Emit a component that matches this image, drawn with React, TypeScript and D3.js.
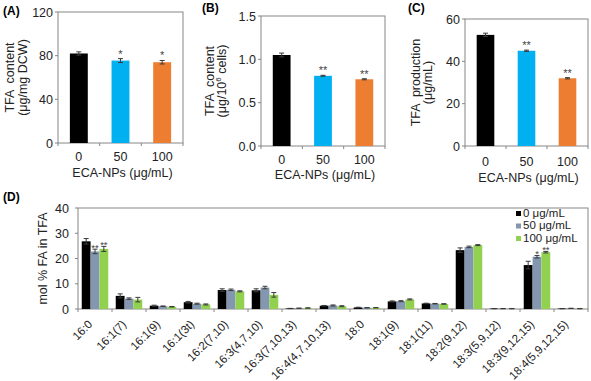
import React from "react";
import * as d3 from "d3";

const concLabels = ["0", "50", "100"];
const barColors = ["#000000", "#00b0f0", "#ed7d31"];

const tfaContent = [82, 75.5, 74];
const tfaContentErr = [1.5, 1.8, 1.6];
const tfaContentStars = ["", "*", "*"];
const tfaContentTicks = [0, 40, 80, 120];

const tfaPerCell = [1.05, 0.81, 0.77];
const tfaPerCellErr = [0.022, 0.006, 0.006];
const tfaPerCellStars = ["", "**", "**"];
const tfaPerCellTicks = [0, 0.5, 1.0, 1.5];

const tfaProd = [52.5, 45, 32];
const tfaProdErr = [0.8, 0.3, 0.3];
const tfaProdStars = ["", "**", "**"];
const tfaProdTicks = [0, 20, 40, 60];

const faNames = [
  "16:0", "16:1(7)", "16:1(9)", "16:1(3t)", "16:2(7,10)", "16:3(4,7,10)",
  "16:3(7,10,13)", "16:4(4,7,10,13)", "18:0", "18:1(9)", "18:1(11)",
  "18:2(9,12)", "18:3(5,9,12)", "18:3(9,12,15)", "18:4(5,9,12,15)",
];
const fa0 = [26.8, 5.2, 1.3, 2.7, 7.5, 7.4, 0.2, 1.3, 0.6, 3.0, 2.2, 23.3, 0.15, 17.4, 0.15];
const fa50 = [22.8, 4.1, 1.1, 2.1, 7.6, 8.5, 0.3, 1.4, 0.5, 3.1, 2.1, 24.6, 0.15, 20.7, 0.25];
const fa100 = [23.8, 3.7, 0.9, 1.8, 7.0, 5.6, 0.4, 1.1, 0.5, 3.8, 2.0, 25.3, 0.15, 22.5, 0.15];
const fa0Err = [1.1, 0.8, 0.2, 0.3, 0.5, 0.6, 0.05, 0.1, 0.1, 0.2, 0.1, 0.9, 0.05, 1.5, 0.05];
const fa50Err = [0.9, 0.3, 0.1, 0.2, 0.3, 0.5, 0.05, 0.2, 0.05, 0.2, 0.1, 0.3, 0.05, 0.5, 0.05];
const fa100Err = [1.0, 0.9, 0.1, 0.2, 0.2, 0.9, 0.05, 0.2, 0.05, 0.2, 0.1, 0.2, 0.05, 0.3, 0.05];
const fa50Stars = ["**", "", "", "", "", "", "", "", "", "", "", "", "", "*", ""];
const fa100Stars = ["**", "", "", "", "", "", "", "", "", "", "", "", "", "**", ""];
const faTicks = [0, 10, 20, 30, 40];
const legendLabels = ["0 μg/mL", "50 μg/mL", "100 μg/mL"];
const faColors = ["#000000", "#8497b0", "#92d050"];

const FONT = "'Liberation Sans', Arial, sans-serif";
const AXIS = "#868686";
const ERR = "#3a3a3a";

type PanelProps = {
  left: number; right: number; top: number; bottom: number;
  values: number[]; errs: number[]; stars: string[]; ticks: number[];
  fmt: (v: number) => string; tag: string; tagX: number; tagY: number;
  title1: string; title2: React.ReactNode; t1x: number; t2x: number;
  tickY: number; labelY: number;
};

function SmallPanel(p: PanelProps) {
  const x = d3.scaleBand<string>().domain(concLabels).range([p.left, p.right]).paddingInner(0.57).paddingOuter(0.285);
  const y = d3.scaleLinear().domain([p.ticks[0], p.ticks[p.ticks.length - 1]]).range([p.bottom, p.top]);
  const step = (p.right - p.left) / concLabels.length;
  const yc = (p.top + p.bottom) / 2;
  return (
    <g fontFamily={FONT}>
      <text x={p.tagX} y={p.tagY} fontSize={12} fontWeight="bold">{p.tag}</text>
      <rect x={p.left} y={p.top} width={p.right - p.left} height={p.bottom - p.top} fill="none" stroke={AXIS} strokeWidth={1} />
      {p.ticks.map((t) => (
        <g key={t}>
          <line x1={p.left - 3} x2={p.left} y1={y(t)} y2={y(t)} stroke={AXIS} />
          <text x={p.left - 5} y={y(t) + 4.5} fontSize={12.5} textAnchor="end" fill="#222">{p.fmt(t)}</text>
        </g>
      ))}
      {d3.range(concLabels.length + 1).map((i) => (
        <line key={i} x1={p.left + i * step} x2={p.left + i * step} y1={p.bottom} y2={p.bottom + 3} stroke={AXIS} />
      ))}
      {concLabels.map((c, i) => {
        const bx = x(c)!;
        const bw = x.bandwidth();
        const cx = bx + bw / 2;
        const top = y(p.values[i] + p.errs[i]);
        const low = y(p.values[i] - p.errs[i]);
        return (
          <g key={c}>
            <rect x={bx} y={y(p.values[i])} width={bw} height={p.bottom - y(p.values[i])} fill={barColors[i]} />
            <line x1={cx} x2={cx} y1={top} y2={low} stroke={ERR} strokeWidth={1} />
            <line x1={cx - 2.5} x2={cx + 2.5} y1={top} y2={top} stroke={ERR} strokeWidth={1} />
            <line x1={cx - 2.5} x2={cx + 2.5} y1={low} y2={low} stroke={ERR} strokeWidth={1} />
            {p.stars[i] && (
              <text x={cx} y={top - 1} fontSize={11} textAnchor="middle" fill="#444">{p.stars[i]}</text>
            )}
            <text x={cx} y={p.tickY} fontSize={12.5} textAnchor="middle" fill="#222">{c}</text>
          </g>
        );
      })}
      <text x={(p.left + p.right) / 2 + 2} y={p.labelY} fontSize={12.5} textAnchor="middle" fill="#222">ECA-NPs (μg/mL)</text>
      <text transform={`translate(${p.t1x},${yc}) rotate(-90)`} fontSize={12.5} textAnchor="middle" fill="#222" xmlSpace="preserve">{p.title1}</text>
      <text transform={`translate(${p.t2x},${yc}) rotate(-90)`} fontSize={12.5} textAnchor="middle" fill="#222">{p.title2}</text>
    </g>
  );
}

function FAPanel() {
  const left = 78, right = 588, top = 208, bottom = 309;
  const x0 = d3.scaleBand<string>().domain(faNames).range([left, right]).paddingInner(0.22).paddingOuter(0.11);
  const groups = ["0", "50", "100"];
  const x1 = d3.scaleBand<string>().domain(groups).range([0, x0.bandwidth()]);
  const y = d3.scaleLinear().domain([0, 40]).range([bottom, top]);
  const series = [fa0, fa50, fa100];
  const errs = [fa0Err, fa50Err, fa100Err];
  const stars = [faNames.map(() => ""), fa50Stars, fa100Stars];
  const step = x0.step();
  return (
    <g fontFamily={FONT}>
      <text x={3} y={201} fontSize={12} fontWeight="bold">(D)</text>
      <rect x={left} y={top} width={right - left} height={bottom - top} fill="none" stroke={AXIS} />
      {faTicks.map((t) => (
        <g key={t}>
          <line x1={left - 3} x2={left} y1={y(t)} y2={y(t)} stroke={AXIS} />
          <text x={left - 9} y={y(t) + 4.5} fontSize={12.5} textAnchor="end" fill="#222">{t}</text>
        </g>
      ))}
      {d3.range(faNames.length + 1).map((i) => (
        <line key={i} x1={left + i * step} x2={left + i * step} y1={bottom} y2={bottom + 3} stroke={AXIS} />
      ))}
      {faNames.map((name, ci) => {
        const gx = x0(name)!;
        return (
          <g key={name}>
            {series.map((s, si) => {
              const bx = gx + x1(groups[si])!;
              const bw = x1.bandwidth();
              const cx = bx + bw / 2;
              const v = s[ci];
              const e = errs[si][ci];
              const t = y(v + e);
              const l = y(Math.max(0, v - e));
              return (
                <g key={si}>
                  <rect x={bx} y={y(v)} width={bw} height={bottom - y(v)} fill={faColors[si]} />
                  <line x1={cx} x2={cx} y1={t} y2={l} stroke={ERR} />
                  <line x1={cx - 2.5} x2={cx + 2.5} y1={t} y2={t} stroke={ERR} />
                  <line x1={cx - 2.5} x2={cx + 2.5} y1={l} y2={l} stroke={ERR} />
                  {stars[si][ci] && (
                    <text x={cx} y={t + 1.5} fontSize={9.5} textAnchor="middle" fill="#444">{stars[si][ci]}</text>
                  )}
                </g>
              );
            })}
            <text transform={`translate(${gx + x0.bandwidth() / 2 - 2},${325}) rotate(-45)`} fontSize={11.5} textAnchor="end" fill="#222">{name}</text>
          </g>
        );
      })}
      <text transform={`translate(${47},${(top + bottom) / 2}) rotate(-90)`} fontSize={12.5} textAnchor="middle" fill="#222">mol % FA in TFA</text>
      {legendLabels.map((lab, i) => (
        <g key={lab}>
          <rect x={516} y={211 + i * 12.5} width={5} height={5} fill={faColors[i]} />
          <text x={523} y={216.5 + i * 12.5} fontSize={11.5} fill="#222">{lab}</text>
        </g>
      ))}
    </g>
  );
}

export default function App() {
  return (
    <svg width={591} height={381} style={{ position: "absolute", left: 0, top: 0, background: "#fff" }}>
      <rect width={591} height={381} fill="#fff" />
      <SmallPanel left={58} right={183} top={12} bottom={143} values={tfaContent} errs={tfaContentErr}
        stars={tfaContentStars} ticks={tfaContentTicks} fmt={(v) => String(v)} tag="(A)" tagX={3} tagY={15}
        title1="TFA  content" title2="(μg/mg DCW)" t1x={14} t2x={27} tickY={161} labelY={177} />
      <SmallPanel left={261} right={385} top={16} bottom={146} values={tfaPerCell} errs={tfaPerCellErr}
        stars={tfaPerCellStars} ticks={tfaPerCellTicks} fmt={(v) => d3.format(".1f")(v)} tag="(B)" tagX={202} tagY={12}
        title1="TFA  content" title2={<>(μg/10<tspan dy={-5} fontSize={8}>6</tspan><tspan dy={5}> cells)</tspan></>}
        t1x={214} t2x={226} tickY={164} labelY={179} />
      <SmallPanel left={465} right={588} top={19} bottom={146} values={tfaProd} errs={tfaProdErr}
        stars={tfaProdStars} ticks={tfaProdTicks} fmt={(v) => String(v)} tag="(C)" tagX={408} tagY={12}
        title1="TFA  production" title2="(μg/mL)" t1x={420} t2x={432} tickY={166} labelY={182} />
      <FAPanel />
    </svg>
  );
}
